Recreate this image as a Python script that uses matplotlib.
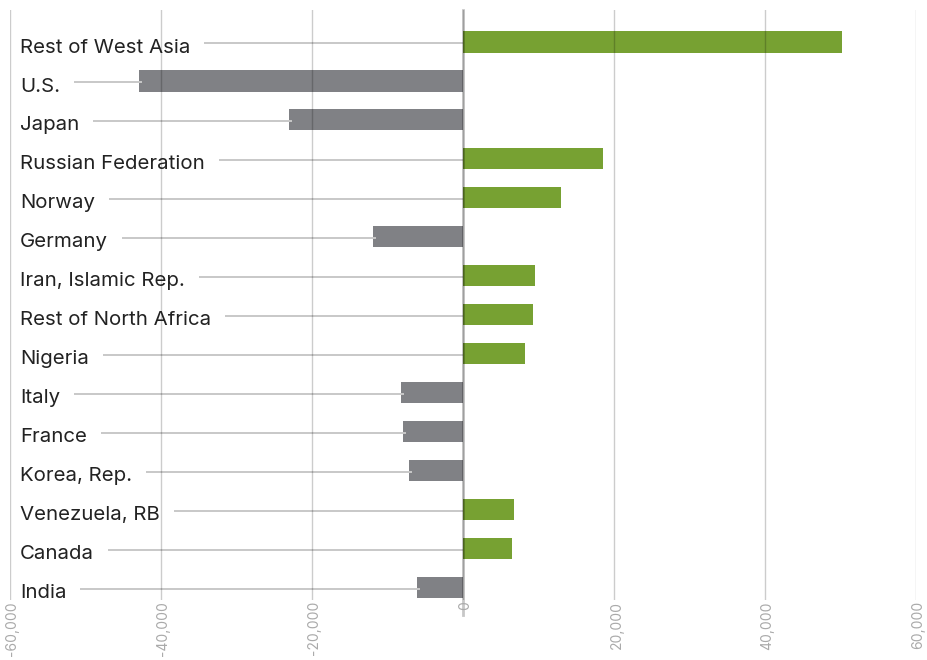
import matplotlib
matplotlib.use("Agg")
import matplotlib.pyplot as plt
from matplotlib.transforms import ScaledTranslation

countries = ["Rest of West Asia", "U.S.", "Japan", "Russian Federation", "Norway",
             "Germany", "Iran, Islamic Rep.", "Rest of North Africa", "Nigeria",
             "Italy", "France", "Korea, Rep.", "Venezuela, RB", "Canada", "India"]
values = [50200, -42900, -23000, 18500, 13000,
          -11900, 9500, 9300, 8200,
          -8200, -7900, -7150, 6750, 6500, -6100]
tick_values = [-60000, -40000, -20000, 0, 20000, 40000, 60000]

GREEN = "#77a132"
GRAY = "#808185"

plt.rcParams['font.family'] = ['Inter', 'DejaVu Sans']

fig = plt.figure(figsize=(9.28, 6.6), dpi=100)
ax = fig.add_axes([10 / 928, 1 - 600 / 660, 906 / 928, 590 / 660])

ypos = list(range(len(countries)))
colors = [GREEN if v >= 0 else GRAY for v in values]
ax.barh(ypos, values, height=0.54, color=colors, zorder=1)

ax.set_xlim(-60000, 60000)
ax.set_ylim(len(countries) - 1 + 0.31, -0.82)

for s in ax.spines.values():
    s.set_visible(False)
ax.set_yticks([])
ax.set_xticks(tick_values)
ax.tick_params(axis='x', length=0, labelbottom=False)

# rotated tick labels, slightly right of each gridline
offset = ScaledTranslation(2.5 / 100, -1 / 100, fig.dpi_scale_trans)
tick_tr = ax.get_xaxis_transform() + offset
for v in tick_values:
    ax.text(v, 0, f"{v:,}", transform=tick_tr, rotation=90, ha='center', va='top',
            fontsize=10, color="#aaaaaa", clip_on=False)

ax.set_axisbelow(False)
ax.xaxis.grid(True, color='black', alpha=0.2, linewidth=1.0)
ax.axvline(0, ymin=-15 / 590, ymax=1, color='black', alpha=0.22, linewidth=2.0,
           zorder=2.6, clip_on=False)

texts = []
for i, name in enumerate(countries):
    t = ax.text(-58700, i + 0.27, name, ha='left', va='baseline', fontsize=14.7,
                color="#222222", zorder=3)
    texts.append(t)

fig.canvas.draw()
renderer = fig.canvas.get_renderer()
inv = ax.transData.inverted()
for i, (t, v) in enumerate(zip(texts, values)):
    bb = t.get_window_extent(renderer)
    x0 = inv.transform((bb.x1 + 14, 0))[0]
    x1 = v + 400 if v < 0 else 0
    ax.plot([x0, x1], [i + 0.03, i + 0.03], color="#c8c8c8", linewidth=1.4,
            zorder=2, solid_capstyle='butt')

fig.savefig("out.png", dpi=100)
